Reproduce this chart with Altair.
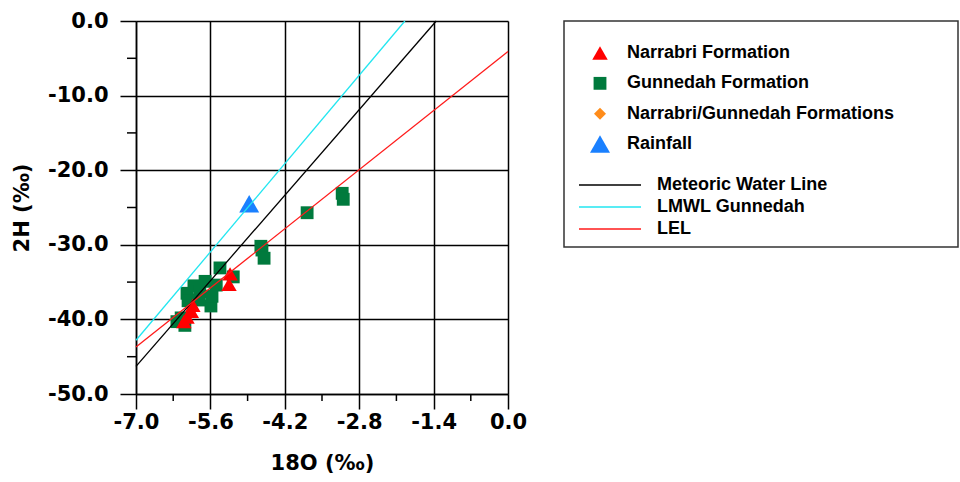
import altair as alt
import pandas as pd

# ---------------- data ----------------
x_major = [-7.0, -5.6, -4.2, -2.8, -1.4, 0.0]
x_minor = [-6.3, -4.9, -3.5, -2.1, -0.7]
y_major = [-50, -40, -30, -20, -10, 0]
y_minor = [-45, -35, -25, -15, -5]

categories = ["Narrabri Formation", "Gunnedah Formation",
              "Narrabri/Gunnedah Formations", "Rainfall"]
cat_colors = ["#ff0000", "#007a3d", "#ff8c1a", "#1a80ff"]
cat_shapes = ["triangle-up", "square", "diamond", "triangle-up"]
cat_sizes = [240, 165, 144, 400]

gunnedah_d18o = [-3.12, -3.10, -3.78, -4.65, -4.63, -4.59, -5.17, -5.42, -5.59,
                 -5.70, -5.49, -5.91, -6.04, -5.80, -5.57, -6.02, -5.81,
                 -6.23, -6.08, -6.15]
gunnedah_d2h = [-23.1, -23.9, -25.7, -30.2, -30.7, -31.8, -34.3, -33.1, -38.2,
                -34.9, -35.4, -35.5, -36.5, -36.3, -36.9, -37.5, -37.4,
                -40.3, -40.8, -39.8]
narrabri_d18o = [-5.23, -5.25, -5.93, -5.96, -6.04, -6.10]
narrabri_d2h = [-33.9, -35.3, -38.1, -38.9, -39.7, -40.3]
rainfall_d18o = [-4.87]
rainfall_d2h = [-24.5]

line_names = ["Meteoric Water Line", "LMWL Gunnedah", "LEL"]
line_colors = ["#000000", "#22e6f0", "#ff1a1a"]
line_x_start = [-7.0, -7.0, -7.0]
line_y_start = [-46.3, -42.8, -43.7]
line_x_end = [-1.35, -1.94, 0.0]
line_y_end = [0.0, 0.0, -4.1]

# ---------------- tables ----------------
pts = pd.concat([
    pd.DataFrame({"d18o": gunnedah_d18o, "d2h": gunnedah_d2h, "cat": categories[1]}),
    pd.DataFrame({"d18o": narrabri_d18o, "d2h": narrabri_d2h, "cat": categories[0]}),
    pd.DataFrame({"d18o": rainfall_d18o, "d2h": rainfall_d2h, "cat": categories[3]}),
], ignore_index=True)
pts["order"] = range(len(pts))

lines = pd.concat([
    pd.DataFrame({"name": line_names, "d18o": line_x_start, "d2h": line_y_start}),
    pd.DataFrame({"name": line_names, "d18o": line_x_end, "d2h": line_y_end}),
], ignore_index=True)

# ---------------- scales / axes ----------------
MINUS = "\u2212"
xs = alt.Scale(domain=[-7, 0], nice=False, zero=False)
ys = alt.Scale(domain=[-50, 0], nice=False, zero=False)
color_scale = alt.Scale(domain=categories, range=cat_colors)
shape_scale = alt.Scale(domain=categories, range=cat_shapes)
size_scale = alt.Scale(type="ordinal", domain=categories, range=cat_sizes)
stroke_scale = alt.Scale(domain=line_names, range=line_colors)

AX_FONT = "DejaVu Sans"
LABEL_EXPR = f"replace(format(datum.value, '.1f'), '{MINUS}', '-')"

common = dict(
    grid=True, gridColor="black", gridWidth=1.5,
    domainColor="black", domainWidth=1.5,
    ticks=True, tickColor="black", tickWidth=1.5,
    labelFont=AX_FONT, labelFontWeight="bold", labelFontSize=21, labelColor="black",
    titleFont=AX_FONT, titleFontWeight="bold", titleFontSize=21, titleColor="black",
    labelOverlap=False, labelFlush=False,
)

x_axis = alt.Axis(values=x_major, title="18O (‰)", labelExpr=LABEL_EXPR,
                  tickSize=15, labelPadding=2, titlePadding=20, **common)
y_axis = alt.Axis(values=y_major, title="2H (‰)", orient="left", labelExpr=LABEL_EXPR,
                  tickSize=16, labelPadding=12, titlePadding=15, **common)

# ---------------- main plot ----------------
points = alt.Chart(pts).mark_point(filled=True, opacity=1, strokeWidth=0).encode(
    x=alt.X("d18o:Q", scale=xs, axis=x_axis),
    y=alt.Y("d2h:Q", scale=ys, axis=y_axis),
    color=alt.Color("cat:N", scale=color_scale, legend=None),
    shape=alt.Shape("cat:N", scale=shape_scale, legend=None),
    size=alt.Size("cat:N", scale=size_scale, legend=None),
    order=alt.Order("order:Q"),
)

reflines = alt.Chart(lines).mark_line(strokeWidth=1.3).encode(
    x=alt.X("d18o:Q", scale=xs),
    y=alt.Y("d2h:Q", scale=ys),
    stroke=alt.Stroke("name:N", scale=stroke_scale, legend=None),
    detail="name:N",
)

x_minor_ticks = alt.Chart(pd.DataFrame({"d18o": x_minor})).mark_rule(
    color="black", strokeWidth=1.5
).encode(x=alt.X("d18o:Q", scale=xs), y=alt.value(373), y2=alt.value(380))

y_minor_ticks = alt.Chart(pd.DataFrame({"d2h": y_minor})).mark_rule(
    color="black", strokeWidth=1.5
).encode(y=alt.Y("d2h:Q", scale=ys), x=alt.value(-9), x2=alt.value(0))

main = alt.layer(points, reflines, x_minor_ticks, y_minor_ticks)

# ---------------- legend ----------------
LEG_FONT = "Liberation Sans"
leg_df = pd.DataFrame({"cat": categories})
leg_y = alt.Y("cat:N", scale=alt.Scale(type="point", domain=categories,
                                       range=[32, 123], padding=0), axis=None)
leg_sym = alt.Chart(leg_df).mark_point(filled=True, opacity=1, strokeWidth=0).encode(
    x=alt.value(464), y=leg_y,
    color=alt.Color("cat:N", scale=color_scale, legend=None),
    shape=alt.Shape("cat:N", scale=shape_scale, legend=None),
    size=alt.Size("cat:N", scale=size_scale, legend=None),
)
leg_txt = alt.Chart(leg_df).mark_text(
    align="left", baseline="middle", font=LEG_FONT, fontWeight="bold",
    fontSize=18, color="black"
).encode(x=alt.value(491), y=leg_y, text="cat:N")
legend_pts = alt.layer(leg_sym, leg_txt)

ll_df = pd.DataFrame({"name": line_names})
ll_y = alt.Y("name:N", scale=alt.Scale(type="point", domain=line_names,
                                       range=[164, 208], padding=0), axis=None)
leg_rule = alt.Chart(ll_df).mark_rule(strokeWidth=1.5).encode(
    x=alt.value(443), x2=alt.value(505), y=ll_y,
    stroke=alt.Stroke("name:N", scale=stroke_scale, legend=None),
)
leg_ltxt = alt.Chart(ll_df).mark_text(
    align="left", baseline="middle", font=LEG_FONT, fontWeight="bold",
    fontSize=18, color="black"
).encode(x=alt.value(521), y=ll_y, text="name:N")
legend_lines = alt.layer(leg_rule, leg_ltxt)

box = alt.Chart(pd.DataFrame({"a": [0]})).mark_rect(
    fillOpacity=0, stroke="#333333", strokeWidth=1.5
).encode(x=alt.value(428), x2=alt.value(822), y=alt.value(0), y2=alt.value(226))

chart = alt.layer(main, box, legend_pts, legend_lines).resolve_scale(
    y="independent"
).properties(
    width=372, height=373,
    autosize=alt.AutoSizeParams(type="none"),
    padding={"left": 136, "top": 21, "right": 452, "bottom": 88},
    background="white",
).configure_view(strokeOpacity=0)

chart.save("out.html", embed_options={"renderer": "svg", "actions": False})
